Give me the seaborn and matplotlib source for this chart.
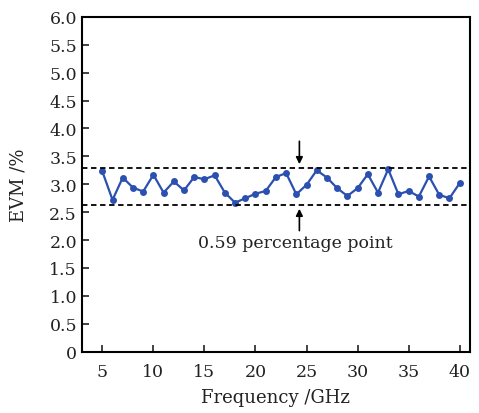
import matplotlib
matplotlib.use("Agg")
import matplotlib.pyplot as plt
import seaborn as sns
import pandas as pd
from matplotlib.ticker import FuncFormatter

freq = list(range(5, 41))
evm = [3.23, 2.72, 3.12, 2.94, 2.87, 3.17, 2.85, 3.05, 2.89, 3.13,
       3.09, 3.16, 2.85, 2.67, 2.75, 2.83, 2.88, 3.13, 3.20, 2.82,
       2.99, 3.25, 3.12, 2.93, 2.79, 2.93, 3.18, 2.85, 3.27, 2.82,
       2.88, 2.78, 3.14, 2.81, 2.75, 3.02]
upper_level = 3.29
lower_level = 2.63
annot_text = "0.59 percentage point"

sns.set_theme(style="ticks")
plt.rcParams['font.family'] = ['DejaVu Serif']

df = pd.DataFrame({"Frequency": freq, "EVM": evm})

fig = plt.figure(figsize=(4.79, 4.14), dpi=100)
ax = fig.add_axes([0.171, 0.148, 0.81, 0.809])

sns.lineplot(data=df, x="Frequency", y="EVM", ax=ax, color="#2b50b0",
             marker="o", markersize=5, markeredgewidth=0, linewidth=1.6)

ax.axhline(upper_level, color="black", linestyle=(0, (3, 2)), linewidth=1.3)
ax.axhline(lower_level, color="black", linestyle=(0, (3, 2)), linewidth=1.3)

ax.annotate("", xy=(24.3, upper_level + 0.02), xytext=(24.3, 3.82),
            arrowprops=dict(arrowstyle="-|>", color="black", lw=1.2, mutation_scale=10))
ax.annotate("", xy=(24.3, lower_level - 0.02), xytext=(24.3, 2.12),
            arrowprops=dict(arrowstyle="-|>", color="black", lw=1.2, mutation_scale=10))
ax.text(23.9, 1.95, annot_text, ha="center", va="center", fontsize=12.5, color="#222222")

ax.set_xlim(3, 41)
ax.set_ylim(0, 6.0)
ax.set_xticks([5, 10, 15, 20, 25, 30, 35, 40])
ax.set_yticks([i * 0.5 for i in range(13)])
ax.yaxis.set_major_formatter(FuncFormatter(lambda v, p: "0" if v == 0 else f"{v:.1f}"))
ax.tick_params(direction="in", length=5, width=1.2, labelsize=12.5, colors="#222222")
ax.tick_params(axis="x", pad=8)
for s in ax.spines.values():
    s.set_linewidth(1.5)
    s.set_color("black")

ax.set_xlabel("Frequency /GHz", fontsize=13, color="#222222", labelpad=6)
ax.set_ylabel("EVM /%", fontsize=13, color="#222222", labelpad=16)

fig.savefig("out.png", dpi=100)
